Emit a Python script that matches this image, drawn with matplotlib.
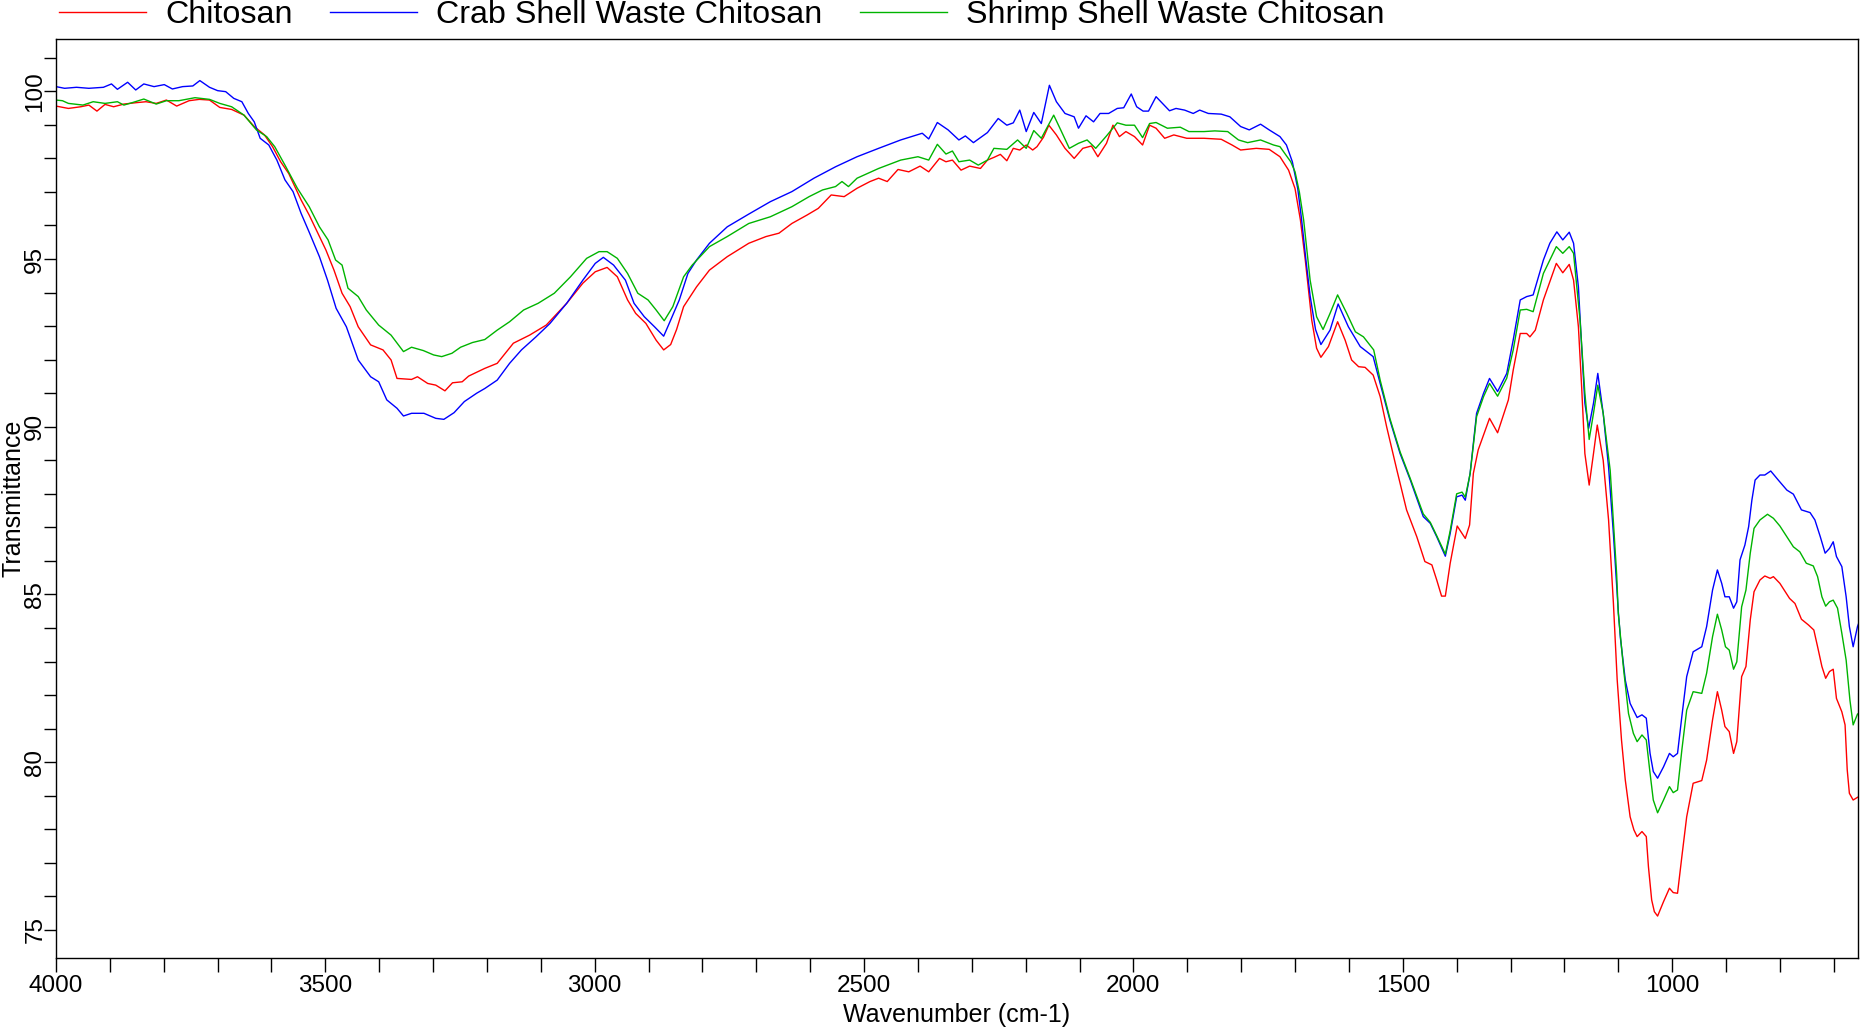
import matplotlib
matplotlib.use("Agg")
import matplotlib.pyplot as plt
from matplotlib.ticker import MultipleLocator

# ---------------- data ----------------
chitosan_wn = [4000, 3977, 3954, 3939, 3924, 3909, 3893, 3874, 3852, 3833, 3814, 3795, 3776, 3753, 3734, 3715,
               3696, 3674, 3651, 3632, 3613, 3598, 3583, 3568, 3545, 3530, 3515, 3499, 3484, 3469, 3454, 3439,
               3416, 3393, 3378, 3367, 3340, 3329, 3310, 3295, 3278, 3264, 3246, 3234, 3204, 3181, 3151, 3121,
               3090, 3052, 3022, 2999, 2977, 2958, 2939, 2924, 2905, 2886, 2872, 2859, 2848, 2835, 2811, 2787,
               2754, 2714, 2682, 2658, 2634, 2606, 2585, 2561, 2537, 2513, 2489, 2473, 2457, 2437, 2417, 2396,
               2380, 2360, 2348, 2336, 2320, 2304, 2284, 2271, 2259, 2247, 2235, 2223, 2211, 2199, 2187, 2179,
               2167, 2157, 2143, 2127, 2110, 2094, 2078, 2066, 2050, 2038, 2026, 2014, 1998, 1983, 1970, 1958,
               1942, 1925, 1901, 1869, 1837, 1817, 1801, 1772, 1748, 1728, 1712, 1700, 1690, 1681, 1669, 1660,
               1652, 1638, 1621, 1607, 1595, 1582, 1570, 1555, 1542, 1530, 1511, 1493, 1474, 1459, 1446, 1437,
               1428, 1421, 1412, 1399, 1384, 1376, 1369, 1360, 1339, 1324, 1304, 1295, 1282, 1270, 1264, 1254,
               1239, 1215, 1203, 1191, 1183, 1174, 1168, 1162, 1154, 1146, 1139, 1128, 1118, 1109, 1102, 1094,
               1087, 1078, 1071, 1065, 1056, 1048, 1044, 1038, 1033, 1027, 1016, 1005, 998, 990, 982, 973,
               961, 945, 936, 925, 916, 908, 902, 894, 886, 880, 871, 863, 855, 848, 837, 828,
               818, 812, 800, 782, 772, 760, 747, 737, 730, 722, 715, 708, 701, 695, 685, 679,
               675, 671, 664, 656, 650]
chitosan_T = [99.56, 99.49, 99.54, 99.59, 99.41, 99.61, 99.54, 99.62, 99.66, 99.69, 99.64, 99.74, 99.56, 99.72, 99.76, 99.74,
              99.52, 99.46, 99.29, 98.95, 98.70, 98.35, 97.90, 97.55, 96.76, 96.31, 95.81, 95.27, 94.67, 93.98, 93.58, 92.98,
              92.44, 92.29, 91.99, 91.44, 91.41, 91.49, 91.29, 91.24, 91.07, 91.31, 91.34, 91.51, 91.74, 91.89, 92.49, 92.73,
              93.03, 93.68, 94.28, 94.62, 94.75, 94.47, 93.78, 93.38, 93.08, 92.58, 92.29, 92.45, 92.90, 93.58, 94.17, 94.67,
              95.07, 95.47, 95.67, 95.77, 96.06, 96.31, 96.51, 96.91, 96.86, 97.11, 97.31, 97.41, 97.31, 97.67, 97.60, 97.77,
              97.60, 98.00, 97.90, 97.95, 97.65, 97.77, 97.70, 97.95, 98.03, 98.12, 97.93, 98.30, 98.25, 98.40, 98.25, 98.35,
              98.63, 98.99, 98.70, 98.30, 98.00, 98.30, 98.37, 98.05, 98.45, 98.99, 98.65, 98.80, 98.65, 98.40, 98.99, 98.90,
              98.60, 98.70, 98.60, 98.60, 98.57, 98.40, 98.25, 98.30, 98.27, 98.05, 97.65, 97.10, 96.16, 94.97, 93.18, 92.34,
              92.07, 92.39, 93.13, 92.58, 91.99, 91.79, 91.77, 91.54, 90.90, 90.00, 88.71, 87.52, 86.72, 85.98, 85.88, 85.43,
              84.95, 84.95, 85.93, 87.04, 86.67, 87.07, 88.61, 89.31, 90.25, 89.82, 90.80, 91.69, 92.78, 92.78, 92.68, 92.88,
              93.78, 94.87, 94.59, 94.84, 94.37, 92.98, 91.19, 89.20, 88.26, 89.20, 90.05, 89.00, 87.22, 84.73, 82.45, 80.66,
              79.47, 78.37, 77.98, 77.78, 77.93, 77.78, 76.88, 75.89, 75.54, 75.41, 75.84, 76.24, 76.11, 76.09, 77.18, 78.37,
              79.37, 79.45, 80.06, 81.26, 82.10, 81.55, 81.06, 80.91, 80.26, 80.61, 82.55, 82.85, 84.24, 85.08, 85.43, 85.55,
              85.48, 85.53, 85.33, 84.88, 84.73, 84.26, 84.09, 83.94, 83.44, 82.85, 82.50, 82.70, 82.77, 81.90, 81.50, 81.11,
              79.77, 79.07, 78.87, 78.95, 79.00]

crab_wn = [4000, 3984, 3962, 3939, 3912, 3897, 3886, 3867, 3852, 3837, 3818, 3799, 3784, 3765, 3746, 3733,
           3715, 3700, 3685, 3670, 3655, 3643, 3632, 3621, 3605, 3590, 3575, 3560, 3545, 3530, 3511, 3496,
           3480, 3461, 3439, 3416, 3401, 3386, 3367, 3355, 3340, 3317, 3295, 3280, 3261, 3242, 3219, 3204,
           3181, 3158, 3136, 3109, 3083, 3052, 3022, 2999, 2984, 2965, 2943, 2927, 2908, 2889, 2872, 2859,
           2843, 2827, 2811, 2787, 2754, 2714, 2674, 2634, 2593, 2553, 2513, 2473, 2432, 2392, 2380, 2364,
           2344, 2324, 2312, 2297, 2271, 2251, 2235, 2223, 2211, 2199, 2185, 2171, 2156, 2143, 2127, 2110,
           2102, 2088, 2074, 2062, 2046, 2030, 2018, 2004, 1994, 1982, 1972, 1958, 1946, 1933, 1921, 1905,
           1889, 1877, 1861, 1837, 1821, 1801, 1785, 1764, 1748, 1728, 1716, 1705, 1695, 1688, 1680, 1672,
           1662, 1652, 1635, 1620, 1601, 1579, 1555, 1542, 1524, 1505, 1486, 1462, 1449, 1437, 1421, 1412,
           1400, 1390, 1384, 1375, 1363, 1350, 1339, 1324, 1307, 1295, 1282, 1270, 1258, 1239, 1227, 1214,
           1203, 1191, 1183, 1174, 1168, 1162, 1155, 1146, 1138, 1128, 1118, 1109, 1100, 1096, 1087, 1078,
           1065, 1056, 1048, 1041, 1035, 1027, 1016, 1005, 998, 990, 982, 973, 961, 945, 936, 925,
           916, 908, 902, 894, 886, 880, 874, 865, 858, 852, 846, 837, 828, 817, 803, 787,
           775, 760, 744, 735, 725, 716, 708, 701, 695, 685, 677, 671, 664, 656, 650]
crab_T = [100.14, 100.09, 100.12, 100.09, 100.12, 100.22, 100.06, 100.27, 100.04, 100.22, 100.14, 100.20, 100.07, 100.14, 100.16, 100.32,
          100.12, 100.02, 99.99, 99.79, 99.69, 99.34, 99.09, 98.60, 98.40, 97.95, 97.36, 97.01, 96.36, 95.80, 95.07, 94.37,
          93.53, 92.98, 91.99, 91.49, 91.34, 90.80, 90.55, 90.32, 90.40, 90.40, 90.25, 90.22, 90.42, 90.75, 91.00, 91.14,
          91.39, 91.89, 92.29, 92.68, 93.08, 93.68, 94.37, 94.87, 95.05, 94.82, 94.37, 93.68, 93.28, 92.98, 92.70, 93.18,
          93.78, 94.57, 94.97, 95.47, 95.96, 96.34, 96.71, 97.01, 97.41, 97.75, 98.05, 98.30, 98.55, 98.75, 98.58, 99.07,
          98.85, 98.55, 98.67, 98.47, 98.77, 99.19, 98.99, 99.06, 99.44, 98.80, 99.37, 99.04, 100.18, 99.69, 99.34, 99.24,
          98.90, 99.27, 99.09, 99.34, 99.34, 99.49, 99.51, 99.92, 99.54, 99.41, 99.41, 99.84, 99.64, 99.42, 99.49, 99.44,
          99.34, 99.44, 99.34, 99.32, 99.24, 98.95, 98.85, 99.02, 98.85, 98.65, 98.40, 97.90, 97.10, 96.20, 95.00, 93.90,
          92.90, 92.45, 92.88, 93.66, 92.98, 92.39, 92.09, 91.29, 90.20, 89.20, 88.41, 87.32, 87.12, 86.72, 86.14, 86.82,
          87.91, 87.96, 87.81, 88.61, 90.40, 91.00, 91.44, 91.05, 91.59, 92.59, 93.78, 93.88, 93.93, 94.97, 95.47, 95.81,
          95.57, 95.80, 95.47, 94.17, 92.39, 90.70, 89.95, 90.70, 91.59, 90.40, 88.80, 86.80, 84.50, 83.70, 82.45, 81.75,
          81.33, 81.41, 81.31, 80.26, 79.72, 79.52, 79.86, 80.26, 80.16, 80.26, 81.36, 82.55, 83.29, 83.44, 84.04, 85.13,
          85.73, 85.33, 84.93, 84.93, 84.59, 84.78, 86.03, 86.47, 87.02, 87.81, 88.41, 88.56, 88.56, 88.68, 88.41, 88.11,
          87.99, 87.52, 87.44, 87.22, 86.72, 86.23, 86.37, 86.57, 86.13, 85.83, 84.93, 84.04, 83.44, 84.04, 84.30]

shrimp_wn = [4000, 3988, 3977, 3950, 3931, 3909, 3886, 3874, 3859, 3837, 3814, 3795, 3772, 3742, 3715, 3696,
             3674, 3651, 3628, 3609, 3594, 3575, 3552, 3530, 3511, 3495, 3481, 3469, 3458, 3439, 3424, 3401,
             3378, 3355, 3340, 3318, 3299, 3284, 3265, 3249, 3227, 3204, 3181, 3158, 3132, 3105, 3075, 3045,
             3015, 2992, 2977, 2958, 2939, 2920, 2901, 2886, 2871, 2855, 2835, 2819, 2787, 2754, 2714, 2674,
             2634, 2602, 2577, 2553, 2541, 2529, 2513, 2473, 2432, 2400, 2380, 2364, 2348, 2336, 2324, 2304,
             2288, 2271, 2259, 2235, 2215, 2199, 2185, 2171, 2148, 2135, 2119, 2102, 2086, 2070, 2050, 2030,
             2014, 1998, 1983, 1970, 1958, 1937, 1913, 1897, 1869, 1849, 1825, 1805, 1788, 1764, 1740, 1728,
             1708, 1700, 1692, 1684, 1672, 1660, 1648, 1635, 1621, 1604, 1588, 1573, 1554, 1542, 1524, 1505,
             1486, 1462, 1449, 1437, 1421, 1412, 1400, 1390, 1384, 1375, 1363, 1350, 1339, 1324, 1307, 1295,
             1282, 1270, 1258, 1239, 1215, 1203, 1191, 1183, 1171, 1162, 1154, 1146, 1138, 1128, 1115, 1103,
             1100, 1090, 1081, 1072, 1065, 1056, 1048, 1041, 1035, 1027, 1016, 1005, 998, 990, 982, 973,
             961, 945, 936, 925, 916, 908, 901, 894, 886, 880, 871, 863, 855, 848, 837, 823,
             812, 800, 787, 775, 763, 751, 738, 730, 722, 715, 708, 701, 693, 685, 677, 670,
             664, 656, 650]
shrimp_T = [99.74, 99.72, 99.64, 99.59, 99.69, 99.64, 99.69, 99.59, 99.66, 99.77, 99.62, 99.72, 99.72, 99.81, 99.76, 99.64,
            99.54, 99.29, 98.85, 98.65, 98.35, 97.80, 97.11, 96.56, 95.96, 95.57, 94.97, 94.82, 94.13, 93.88, 93.48, 93.03,
            92.73, 92.24, 92.37, 92.27, 92.14, 92.09, 92.19, 92.37, 92.51, 92.60, 92.88, 93.13, 93.48, 93.68, 93.98, 94.47,
            95.02, 95.22, 95.22, 95.02, 94.57, 93.98, 93.78, 93.48, 93.16, 93.58, 94.47, 94.82, 95.37, 95.67, 96.06, 96.26,
            96.56, 96.86, 97.06, 97.16, 97.31, 97.16, 97.41, 97.70, 97.95, 98.05, 97.95, 98.42, 98.13, 98.22, 97.90, 97.95,
            97.80, 97.95, 98.30, 98.27, 98.55, 98.30, 98.83, 98.60, 99.29, 98.85, 98.30, 98.45, 98.55, 98.30, 98.67, 99.06,
            98.99, 98.99, 98.62, 99.04, 99.07, 98.90, 98.93, 98.80, 98.80, 98.82, 98.80, 98.55, 98.47, 98.55, 98.40, 98.35,
            97.90, 97.60, 97.00, 96.16, 94.37, 93.28, 92.90, 93.38, 93.93, 93.38, 92.83, 92.68, 92.29, 91.39, 90.25, 89.25,
            88.45, 87.40, 87.15, 86.75, 86.20, 86.90, 88.00, 88.05, 87.90, 88.60, 90.30, 90.90, 91.29, 90.91, 91.45, 92.29,
            93.48, 93.50, 93.43, 94.57, 95.37, 95.17, 95.37, 95.17, 93.18, 91.00, 89.62, 90.40, 91.24, 90.40, 88.70, 85.60,
            84.44, 82.75, 81.45, 80.86, 80.61, 80.81, 80.66, 79.67, 78.87, 78.49, 78.87, 79.27, 79.09, 79.17, 80.36, 81.55,
            82.10, 82.05, 82.65, 83.74, 84.41, 83.94, 83.44, 83.34, 82.77, 82.99, 84.63, 85.13, 86.23, 86.97, 87.22, 87.39,
            87.27, 87.04, 86.72, 86.42, 86.27, 85.93, 85.85, 85.53, 84.93, 84.65, 84.78, 84.83, 84.59, 83.84, 83.04, 81.85,
            81.11, 81.43, 81.50]

series_names = ["Chitosan", "Crab Shell Waste Chitosan", "Shrimp Shell Waste Chitosan"]
series_colors = ["#FF0000", "#0000FF", "#00B400"]
x_ticks = [4000, 3500, 3000, 2500, 2000, 1500, 1000]
y_ticks = [75, 80, 85, 90, 95, 100]

# ---------------- figure ----------------
plt.rcParams['font.family'] = ['Liberation Sans', 'DejaVu Sans']
W, H = 1860, 1030
fig = plt.figure(figsize=(W / 100, H / 100), dpi=100)
L, R, T, B = 56, 1858, 39, 958
ax = fig.add_axes([L / W, 1 - B / H, (R - L) / W, (B - T) / H])

handles = []
for wn, tv, name, col in zip([chitosan_wn, crab_wn, shrimp_wn],
                             [chitosan_T, crab_T, shrimp_T],
                             series_names, series_colors):
    h, = ax.plot(wn, tv, color=col, lw=1.0, label=name)
    handles.append(h)

ax.set_xlim(4000, 655)
ax.set_ylim(74.16, 101.56)
ax.set_xticks(x_ticks)
ax.set_xticklabels([str(v) for v in x_ticks])
ax.xaxis.set_minor_locator(MultipleLocator(100))
ax.set_yticks(y_ticks)
ax.set_yticklabels([str(v) for v in y_ticks], rotation=90, va='center')
ax.yaxis.set_minor_locator(MultipleLocator(1))
ax.tick_params(which='both', direction='out', width=1, color='black')
ax.tick_params(axis='x', which='both', length=10)
ax.tick_params(axis='y', which='both', length=8.5)
ax.tick_params(axis='x', labelsize=17.5, pad=2)
ax.tick_params(axis='y', labelsize=17.5, pad=-1.5)
for s in ax.spines.values():
    s.set_linewidth(1)
    s.set_color('black')

fig.text(957 / W, 1 - 1015 / H, "Wavenumber (cm-1)", ha='center', va='center', fontsize=18)
fig.text(13.5 / W, 1 - 498 / H, "Transmittance", ha='center', va='center', rotation=90, fontsize=18)

fig.legend(handles=handles, loc='upper left', bbox_to_anchor=(59 / W, 1.0), ncol=3,
           frameon=False, fontsize=23.2, handlelength=2.7, handletextpad=0.6,
           columnspacing=1.15, borderpad=0, borderaxespad=0)

fig.savefig("out.png", dpi=100)
